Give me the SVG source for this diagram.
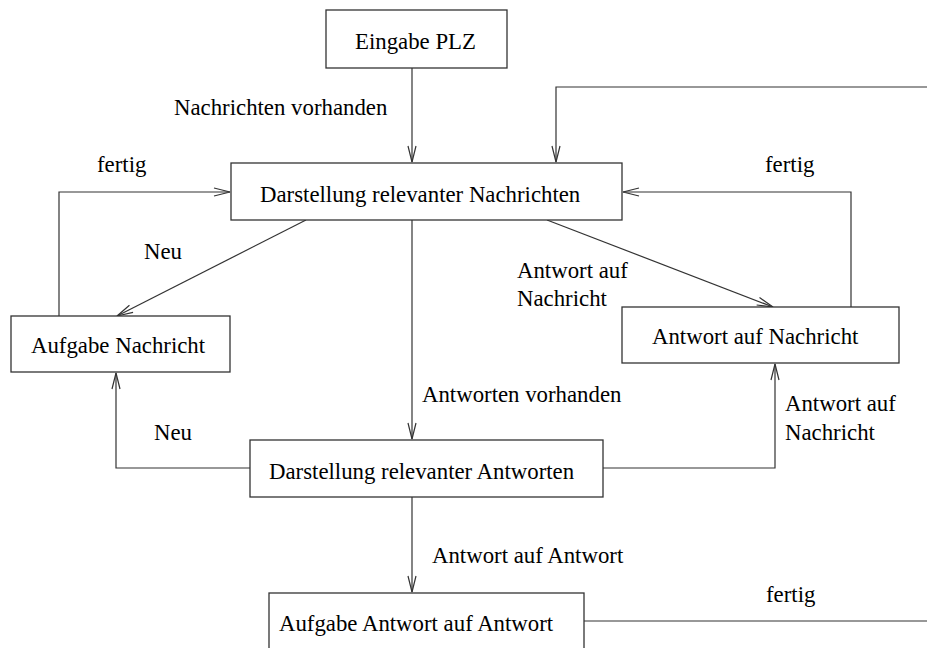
<svg xmlns="http://www.w3.org/2000/svg" width="927" height="648" viewBox="0 0 927 648">
<style>
.box{fill:#fff;stroke:#333;stroke-width:1.3}
.ln{fill:none;stroke:#333;stroke-width:1.2}
text{font-family:"Liberation Serif","Times New Roman",serif;font-size:22.8px;fill:#000}
</style>
<defs>
<marker id="ah" viewBox="0 0 18 10" refX="17" refY="5" markerWidth="18" markerHeight="10" markerUnits="userSpaceOnUse" orient="auto">
<path d="M1,1 L17,5 L1,9" fill="none" stroke="#333" stroke-width="1.2"/>
</marker>
</defs>
<g id="connectors">
<path class="ln" d="M412,68 V162" marker-end="url(#ah)"/>
<path class="ln" d="M927,87 H556 V162" marker-end="url(#ah)"/>
<path class="ln" d="M59,316 V192 H230" marker-end="url(#ah)"/>
<path class="ln" d="M851,307 V192 H623" marker-end="url(#ah)"/>
<path class="ln" d="M306,220 L117,316" marker-end="url(#ah)"/>
<path class="ln" d="M547,220 L773,307" marker-end="url(#ah)"/>
<path class="ln" d="M412,220 V439" marker-end="url(#ah)"/>
<path class="ln" d="M250,468 H116 V373" marker-end="url(#ah)"/>
<path class="ln" d="M603,468 H775 V364" marker-end="url(#ah)"/>
<path class="ln" d="M412,497 V592" marker-end="url(#ah)"/>
<path class="ln" d="M584,621 H927"/>
<text x="174" y="115">Nachrichten vorhanden</text>
<text x="97" y="172">fertig</text>
<text x="765" y="172">fertig</text>
<text x="144" y="259">Neu</text>
<text x="517" y="278">Antwort auf</text>
<text x="517" y="306">Nachricht</text>
<text x="422" y="402">Antworten vorhanden</text>
<text x="154" y="440">Neu</text>
<text x="785" y="411">Antwort auf</text>
<text x="785" y="440">Nachricht</text>
<text x="432" y="563">Antwort auf Antwort</text>
<text x="766" y="602">fertig</text>
</g>
<g id="eingabe-plz"><rect class="box" x="326" y="10" width="181" height="58"/><text x="355" y="49">Eingabe PLZ</text></g>
<g id="darstellung-nachrichten"><rect class="box" x="231" y="163" width="391" height="57"/><text x="260" y="202">Darstellung relevanter Nachrichten</text></g>
<g id="aufgabe-nachricht"><rect class="box" x="11" y="316" width="219" height="56"/><text x="31" y="353">Aufgabe Nachricht</text></g>
<g id="antwort-auf-nachricht"><rect class="box" x="622" y="307" width="277" height="56"/><text x="652" y="344">Antwort auf Nachricht</text></g>
<g id="darstellung-antworten"><rect class="box" x="250" y="440" width="353" height="57"/><text x="269" y="479">Darstellung relevanter Antworten</text></g>
<g id="aufgabe-antwort"><rect class="box" x="269" y="593" width="315" height="70"/><text x="279" y="631">Aufgabe Antwort auf Antwort</text></g>
</svg>
